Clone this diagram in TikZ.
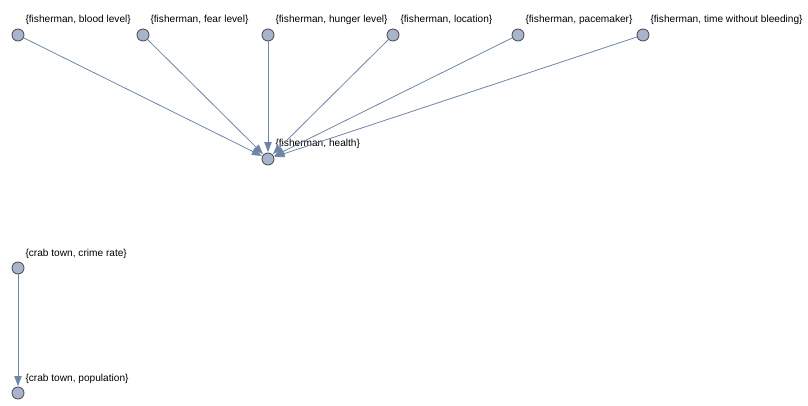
\documentclass[tikz,border=0pt]{standalone}
\usepackage{fontspec}
\setmainfont{Liberation Sans}
\usepackage{xcolor}
\usepackage{tikz}
\usetikzlibrary{arrows.meta, positioning}
\definecolor{vertexfill}{RGB}{167, 180, 204}
\definecolor{vertexdraw}{RGB}{85, 85, 90}
\definecolor{edgecol}{RGB}{110, 132, 170}

\begin{document}
\begin{tikzpicture}[
    x=0.75pt, y=-0.75pt,
    vertex/.style={circle, draw=vertexdraw, fill=vertexfill, line width=0.7pt, minimum size=9pt, inner sep=0pt},
    lbl/.style={font=\fontsize{7.6}{9}\selectfont, inner sep=0pt, text=black},
    arrow/.style={-{Triangle[length=7.5pt, width=5.5pt]}, line width=0.6pt, color=edgecol, shorten >=0.3pt}
]
    \useasboundingbox (0,0) rectangle (808,406);

    % Nodes
    \node[vertex] (blood) at (18,35) {};
    \node[vertex] (fear) at (143,35) {};
    \node[vertex] (hunger) at (268,35) {};
    \node[vertex] (location) at (393,35) {};
    \node[vertex] (pacemaker) at (518,35) {};
    \node[vertex] (bleeding) at (643,35) {};
    \node[vertex] (health) at (268,159) {};
    \node[vertex] (crime) at (18,268) {};
    \node[vertex] (population) at (18,393) {};

    % Labels
    \node[lbl, above right=4.5pt and 2pt of blood] (bloodlbl) {\{fisherman, blood level\}};
    \node[lbl, above right=4.5pt and 2pt of fear] (fearlbl) {\{fisherman, fear level\}};
    \node[lbl, above right=4.5pt and 2pt of hunger] (hungerlbl) {\{fisherman, hunger level\}};
    \node[lbl, above right=4.5pt and 2pt of location] (locationlbl) {\{fisherman, location\}};
    \node[lbl, above right=4.5pt and 2pt of pacemaker] (pacemakerlbl) {\{fisherman, pacemaker\}};
    \node[lbl, above right=4.5pt and 2pt of bleeding] (bleedinglbl) {\{fisherman, time without bleeding\}};
    \node[lbl, above right=4.5pt and 2pt of health] (healthlbl) {\{fisherman, health\}};
    \node[lbl, above right=3.5pt and 2pt of crime] (crimelbl) {\{crab town, crime rate\}};
    \node[lbl, above right=3.5pt and 2pt of population] (populationlbl) {\{crab town, population\}};

    % Arrows
    \foreach \src in {blood, fear, hunger, location, pacemaker, bleeding}
        \draw[arrow] (\src) -- (health);
    \draw[arrow] (crime) -- (population);

\end{tikzpicture}
\end{document}
